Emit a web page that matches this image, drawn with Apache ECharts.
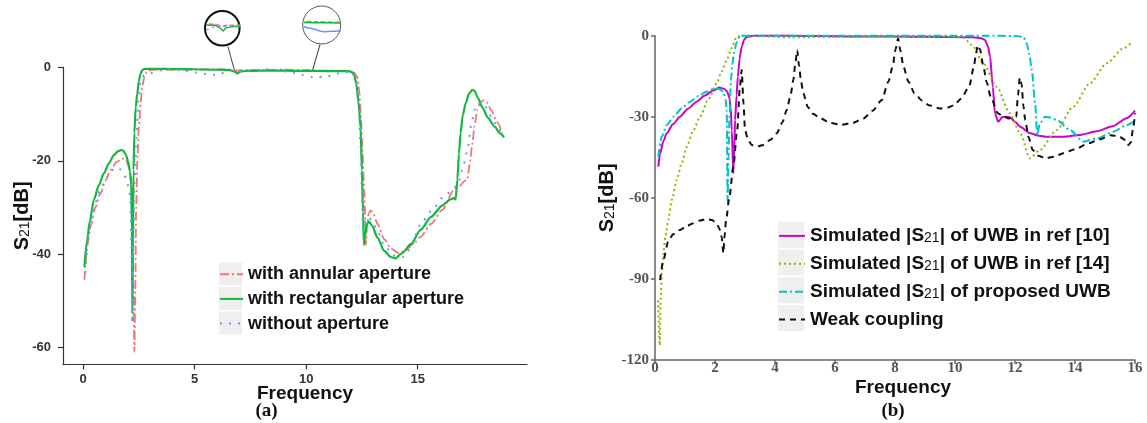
<!DOCTYPE html>
<html lang="en">
<head>
<meta charset="UTF-8">
<title>S21 comparison</title>
<script src="https://cdn.jsdelivr.net/npm/echarts@6/dist/echarts.min.js"></script>
<style>
  html, body { margin: 0; padding: 0; background: #fff; }
  #main { width: 1147px; height: 423px; }
</style>
</head>
<body>
<div id="main"></div>
<script>
    // ---- (a) aperture comparison, [GHz, dB] ----
    var annularAp = [[0.06,-45.5],[0.2,-38],[0.33,-34.1],[0.55,-30],[0.78,-27],[1.0,-24.3],[1.23,-22],[1.5,-20.3],[1.75,-19.5],[1.9,-19.7],[2.0,-20.6],[2.1,-22.5],[2.18,-26],[2.22,-35],[2.26,-50],[2.3,-60.9],[2.34,-48],[2.38,-30],[2.44,-19],[2.5,-12.7],[2.58,-7.5],[2.65,-4.1],[2.75,-2],[2.87,-0.8],[3.1,-0.5],[4,-0.45],[5,-0.45],[6,-0.4],[6.6,-0.45],[6.9,-0.7],[7.1,-0.6],[8,-0.55],[9,-0.5],[10,-0.6],[11,-0.7],[12.0,-0.8],[12.15,-1.1],[12.29,-2],[12.38,-5],[12.45,-10],[12.52,-17.7],[12.6,-26],[12.65,-32],[12.68,-38],[12.73,-34],[12.8,-31.3],[12.89,-30.6],[13.0,-31.2],[13.2,-33.5],[13.5,-36.8],[13.8,-38.8],[14.16,-39.8],[14.5,-39],[14.8,-37.8],[15.13,-36.3],[15.6,-33.5],[16.1,-30.5],[16.62,-26.3],[16.9,-25.3],[17.1,-24.3],[17.22,-24.1],[17.35,-20],[17.45,-16.3],[17.55,-12.5],[17.67,-9.1],[17.8,-7.5],[17.97,-7],[18.1,-7.5],[18.3,-9.2],[18.55,-11.6],[18.79,-14.1]];
    var rectAp = [[0.06,-42.7],[0.18,-37],[0.3,-33],[0.48,-28.4],[0.7,-25.3],[0.93,-22.7],[1.15,-20.6],[1.38,-18.8],[1.55,-18],[1.7,-17.7],[1.8,-17.8],[1.92,-18.7],[2.02,-20.2],[2.1,-22.2],[2.16,-25],[2.19,-35],[2.21,-52.7],[2.23,-40],[2.26,-22],[2.3,-14],[2.36,-8.5],[2.43,-5.6],[2.5,-3],[2.57,-1.4],[2.65,-0.6],[2.75,-0.3],[3.2,-0.3],[4,-0.35],[5,-0.4],[6,-0.5],[6.6,-0.6],[6.8,-0.9],[6.92,-1.3],[7.05,-0.9],[7.3,-0.75],[8,-0.7],[9,-0.7],[10,-0.75],[11,-0.8],[11.9,-0.8],[12.05,-1],[12.15,-1.5],[12.25,-3.5],[12.35,-7.5],[12.44,-13],[12.5,-22],[12.55,-31],[12.59,-38],[12.64,-36],[12.72,-33.6],[12.81,-33],[12.95,-33.8],[13.2,-36.5],[13.5,-39.3],[13.8,-40.6],[14.0,-40.9],[14.3,-39.8],[14.7,-37.8],[15.13,-34.8],[15.6,-32],[16.1,-29.6],[16.45,-28.3],[16.62,-28],[16.7,-28.3],[16.78,-24],[16.85,-18.5],[16.92,-14.1],[17.02,-10.3],[17.15,-7.7],[17.3,-5.6],[17.45,-4.8],[17.55,-5],[17.7,-6.5],[17.9,-8.6],[18.15,-10.8],[18.45,-12.7],[18.7,-14.2],[18.87,-15]];
    var noAp = [[0.1,-44],[0.25,-35.5],[0.48,-30],[0.75,-26.5],[1.0,-24],[1.23,-22.2],[1.45,-21.5],[1.6,-21.6],[1.8,-22.5],[1.95,-24],[2.05,-25.9],[2.12,-28],[2.17,-38],[2.2,-54.8],[2.24,-42],[2.3,-25],[2.4,-15],[2.48,-7],[2.57,-2.9],[2.7,-1.8],[2.95,-1.3],[3.5,-0.6],[3.9,-0.3],[4.5,-0.6],[5,-1.1],[5.5,-1.4],[5.95,-1.6],[6.6,-0.8],[7.2,-0.7],[7.7,-0.6],[8.2,-0.4],[8.7,-0.6],[9.2,-0.9],[9.8,-1.6],[10.3,-2.1],[10.9,-2],[11.4,-1.3],[12.0,-0.9],[12.15,-1.8],[12.27,-4],[12.36,-9],[12.44,-17],[12.5,-26],[12.55,-35.6],[12.6,-34],[12.68,-32.5],[12.8,-32],[12.95,-32.8],[13.2,-35],[13.5,-38],[13.9,-40.3],[14.38,-40.6],[14.7,-38.6],[15.13,-33.5],[15.6,-30.8],[16.17,-27.7],[16.55,-26.3],[16.8,-25],[17.0,-22],[17.22,-18],[17.4,-12.5],[17.55,-9],[17.7,-7.6],[17.85,-7.5],[18.0,-8.2],[18.3,-10.5],[18.55,-12.5],[18.72,-13.8]];
    var ticksA_x = [0, 5, 10, 15];
    var ticksA_y = [-60, -40, -20, 0];

    // ---- (b) UWB comparison, [GHz, dB] ----
    var uwbRef10 = [[0.11,-48.5],[0.17,-43.5],[0.28,-39],[0.39,-36.1],[0.6,-32.8],[0.83,-30],[1.1,-27],[1.39,-24.4],[1.65,-22.2],[1.94,-20.3],[2.14,-19.2],[2.3,-19.6],[2.41,-20.7],[2.48,-23],[2.52,-26.3],[2.56,-35],[2.61,-50.9],[2.64,-42],[2.67,-31.2],[2.72,-22],[2.76,-15.2],[2.82,-8.5],[2.89,-4.1],[2.97,-1.5],[3.06,-0.4],[3.3,0],[4,0],[5,-0.1],[6,-0.2],[7,-0.3],[8,-0.3],[9,-0.4],[10,-0.5],[10.6,-0.6],[10.9,-1],[11.0,-1.6],[11.1,-4],[11.17,-7.8],[11.26,-18.9],[11.33,-28.7],[11.44,-31.8],[11.5,-31.2],[11.56,-30.2],[11.7,-30],[11.83,-30.2],[12.0,-31.8],[12.17,-33.7],[12.5,-36.1],[12.8,-37],[13.06,-37.4],[13.61,-37.4],[14.17,-36.7],[14.72,-35.4],[15.28,-33.4],[15.72,-30.5],[16,-27.7]];
    var uwbRef14 = [[0.1,-98],[0.16,-114.5],[0.19,-96.6],[0.23,-88],[0.28,-80.5],[0.35,-74],[0.44,-68.2],[0.57,-60.5],[0.72,-53.4],[0.9,-46.8],[1.06,-41.1],[1.27,-35.2],[1.5,-30],[1.78,-23.5],[2.06,-17.6],[2.22,-13.2],[2.39,-9],[2.55,-4.6],[2.72,-0.4],[2.9,0],[3.5,-0.2],[4.5,-0.6],[5.5,-0.5],[6.5,-0.4],[7.5,-0.3],[8.5,-0.3],[9.5,-0.3],[10.0,-0.4],[10.28,-0.8],[10.45,-2.2],[10.61,-4.1],[10.94,-10.2],[11.39,-18.9],[11.83,-28.7],[12.17,-36.1],[12.5,-45.4],[12.83,-42.3],[13.39,-34.9],[13.94,-26.3],[14.5,-17.6],[15.06,-10.2],[15.61,-4.7],[15.92,-2.2]];
    var uwbProposed = [[0.11,-44.8],[0.22,-37.4],[0.4,-33],[0.61,-30],[0.9,-26.8],[1.17,-24.4],[1.45,-22.3],[1.72,-20.7],[2.0,-19.5],[2.15,-19.8],[2.28,-20.7],[2.35,-23.5],[2.39,-27.5],[2.42,-61.4],[2.45,-45],[2.48,-31.2],[2.53,-16.4],[2.58,-10.5],[2.63,-6.5],[2.72,-2.5],[2.83,0],[4,0],[6,0],[8,0],[10,0],[11,0],[12,-0.1],[12.28,-0.4],[12.39,-2.8],[12.48,-7],[12.56,-12.7],[12.67,-25],[12.74,-36.7],[12.83,-32.4],[13.0,-30],[13.2,-30.3],[13.39,-31.2],[13.83,-34.9],[14.28,-39.2],[14.72,-38],[15.28,-35.5],[15.7,-33.2],[16,-31.5]];
    var weakCoupling = [[0.17,-90.4],[0.28,-83],[0.44,-76.2],[0.6,-73.5],[0.83,-71.9],[1.05,-70.5],[1.28,-69.4],[1.5,-68.4],[1.72,-67.8],[1.9,-68.2],[2.06,-69.4],[2.15,-71.5],[2.22,-74.4],[2.28,-80.5],[2.32,-74],[2.37,-68.2],[2.48,-59.6],[2.61,-48.5],[2.74,-34.9],[2.83,-18.9],[2.89,-12.7],[2.95,-25],[3.0,-34.9],[3.1,-38.5],[3.22,-40.4],[3.4,-41],[3.61,-40.4],[3.85,-38.5],[4.06,-36.1],[4.25,-32],[4.39,-27.5],[4.52,-22],[4.61,-16.4],[4.68,-10],[4.74,-5.3],[4.8,-11],[4.87,-17],[4.94,-21.3],[5.1,-26.5],[5.28,-29],[5.5,-30.5],[5.85,-32.3],[6.22,-33],[6.6,-32.2],[6.95,-30.6],[7.25,-27.8],[7.56,-23.8],[7.78,-17],[7.92,-11.5],[8.02,-5],[8.1,-1],[8.18,-5.5],[8.28,-11.5],[8.45,-17],[8.65,-21.3],[8.9,-24],[9.13,-25.7],[9.5,-26.9],[9.75,-26.6],[9.98,-25.7],[10.2,-23.3],[10.47,-18.9],[10.62,-12],[10.71,-6],[10.76,-3.5],[10.83,-5],[10.95,-11.5],[11.05,-17],[11.19,-22.6],[11.43,-28.7],[11.6,-29.8],[11.8,-30.6],[12.04,-30],[12.1,-22],[12.16,-15.5],[12.22,-18],[12.28,-26],[12.34,-31.2],[12.45,-37.5],[12.59,-42.3],[12.8,-44.5],[13.01,-45.4],[13.3,-44.8],[13.61,-43.5],[14.0,-42],[14.46,-39.8],[14.8,-38.4],[15.19,-36.8],[15.45,-37.2],[15.68,-38.6],[15.78,-40.5],[15.86,-39.5],[15.93,-34.9],[16,-28.7]];

    var namesA = ['with annular aperture', 'with rectangular aperture', 'without aperture'];
    var namesB = ['Simulated |S21| of UWB in ref [10]', 'Simulated |S21| of UWB in ref [14]', 'Simulated |S21| of proposed UWB', 'Weak coupling'];

    var chart = echarts.init(document.getElementById('main'));

    function line(name, data, color, width, dash, xi) {
        return {
            name: name, type: 'line', data: data,
            xAxisIndex: xi, yAxisIndex: xi,
            symbol: 'none', showSymbol: false,
            smooth: 0.25, smoothMonotone: 'x',
            clip: xi > 1,
            lineStyle: { color: color, width: width, type: dash, cap: 'butt' },
            itemStyle: { color: color },
            emphasis: { disabled: true },
            z: 3
        };
    }

    var cRed = '#f87470', cGreen = '#12b83a', cBlue = '#5f9bff';
    var dashDot = [9, 3, 2, 3], dots = [2, 7];

    var axisA = {
        axisLine: { onZero: false, lineStyle: { color: '#333', width: 1.2 } },
        axisTick: { length: 5, lineStyle: { color: '#333', width: 1.2 } },
        splitLine: { show: false },
        axisLabel: { color: '#333', fontSize: 13, fontWeight: 'bold', fontFamily: 'Liberation Sans' }
    };
    var axisB = {
        axisLine: { onZero: false, lineStyle: { color: '#666', width: 1.5 } },
        axisTick: { length: 4, lineStyle: { color: '#666', width: 1.5 } },
        splitLine: { show: false },
        axisLabel: { color: '#555', fontSize: 15, fontWeight: 'bold', fontFamily: 'Liberation Serif' }
    };
    var nameRich = {
        n: { fontSize: 20, fontWeight: 'bold', fontFamily: 'Liberation Sans', color: '#111' },
        s: { fontSize: 14, fontFamily: 'Liberation Sans', color: '#111', padding: [6, 0, 0, 0] }
    };
    var yName = '{n|S}{s|21}{n|[dB]}';
    var xNameStyle = { fontSize: 19, fontWeight: 'bold', fontFamily: 'Liberation Sans', color: '#111' };

    function legendLabel(name) {
        var i = name.indexOf('S21');
        if (i < 0) return '{n|' + name + '}';
        return '{n|' + name.slice(0, i + 1) + '}{s|21}{n|' + name.slice(i + 3) + '}';
    }

    var option = {
        backgroundColor: '#fff',
        animation: false,
        grid: [
            { left: 63, top: 67.4, width: 464, height: 297, outerBoundsMode: 'none' },
            { left: 655, top: 35.7, width: 480, height: 324.3, outerBoundsMode: 'none' },
            // magnified insets in the circles
            { left: 207, top: 19, width: 31, height: 19, outerBoundsMode: 'none' },
            { left: 305, top: 15, width: 34, height: 20, outerBoundsMode: 'none' }
        ],
        xAxis: [
            Object.assign({}, axisA, {
                type: 'value', gridIndex: 0, min: -0.9, max: 19.9,
                axisTick: Object.assign({}, axisA.axisTick, { customValues: ticksA_x }),
                axisLabel: Object.assign({}, axisA.axisLabel, { customValues: ticksA_x, margin: 9 }),
                name: 'Frequency', nameLocation: 'middle', nameGap: 20, nameMoveOverlap: false,
                nameTextStyle: Object.assign({ padding: [0, 0, 0, 20] }, xNameStyle)
            }),
            Object.assign({}, axisB, {
                type: 'value', gridIndex: 1, min: 0, max: 16, interval: 2,
                axisLabel: Object.assign({}, axisB.axisLabel, { margin: 1 }),
                name: 'Frequency', nameLocation: 'middle', nameGap: 18, nameMoveOverlap: false,
                nameTextStyle: Object.assign({ padding: [0, 0, 0, 16] }, xNameStyle)
            }),
            { type: 'value', gridIndex: 2, min: 6.3, max: 7.5, show: false },
            { type: 'value', gridIndex: 3, min: 9.6, max: 10.9, show: false }
        ],
        yAxis: [
            Object.assign({}, axisA, {
                type: 'value', gridIndex: 0, min: -63.6, max: 0,
                axisTick: Object.assign({}, axisA.axisTick, { customValues: ticksA_y }),
                axisLabel: Object.assign({}, axisA.axisLabel, { customValues: ticksA_y, margin: 12 }),
                name: yName, nameLocation: 'middle', nameGap: 31, nameRotate: 90, nameMoveOverlap: false,
                nameTextStyle: { rich: nameRich }
            }),
            Object.assign({}, axisB, {
                type: 'value', gridIndex: 1, min: -120, max: 0, interval: 30,
                axisLabel: Object.assign({}, axisB.axisLabel, { margin: 6 }),
                name: yName, nameLocation: 'middle', nameGap: 38, nameRotate: 90, nameMoveOverlap: false,
                nameTextStyle: { rich: nameRich }
            }),
            { type: 'value', gridIndex: 2, min: -2.2, max: 0.2, show: false },
            { type: 'value', gridIndex: 3, min: -2.6, max: 0.4, show: false }
        ],
        legend: [
            {
                data: namesA, orient: 'vertical', left: 219, top: 265, padding: 0,
                itemWidth: 23, itemHeight: 23, itemGap: 6.3,
                itemStyle: { opacity: 0 },
                textStyle: { fontSize: 18, fontWeight: 'bold', fontFamily: 'Liberation Sans', color: '#111' },
                selectedMode: false
            },
            {
                data: namesB, orient: 'vertical', left: 778, top: 225.5, padding: 0,
                itemWidth: 26, itemHeight: 26, itemGap: 7.1,
                itemStyle: { opacity: 0 },
                formatter: legendLabel,
                textStyle: {
                    rich: {
                        n: { fontSize: 19, fontWeight: 'bold', fontFamily: 'Liberation Sans', color: '#111' },
                        s: { fontSize: 14, fontFamily: 'Liberation Sans', color: '#111', padding: [5, 0, 0, 0] }
                    }
                },
                selectedMode: false
            }
        ],
        graphic: [
            // grey legend key boxes
            { type: 'rect', shape: { x: 219, y: 262.5, width: 23, height: 23 }, style: { fill: '#efefef' }, z: 0 },
            { type: 'rect', shape: { x: 219, y: 287, width: 23, height: 23 }, style: { fill: '#efefef' }, z: 0 },
            { type: 'rect', shape: { x: 219, y: 311.5, width: 23, height: 23 }, style: { fill: '#efefef' }, z: 0 },
            { type: 'rect', shape: { x: 778, y: 221.7, width: 26, height: 26 }, style: { fill: '#efefef' }, z: 0 },
            { type: 'rect', shape: { x: 778, y: 249.5, width: 26, height: 26 }, style: { fill: '#efefef' }, z: 0 },
            { type: 'rect', shape: { x: 778, y: 277.3, width: 26, height: 26 }, style: { fill: '#efefef' }, z: 0 },
            { type: 'rect', shape: { x: 778, y: 305.1, width: 26, height: 26 }, style: { fill: '#efefef' }, z: 0 },
            // zoom circles and leader lines
            { type: 'circle', shape: { cx: 222.3, cy: 28.3, r: 17.3 }, style: { fill: '#fff', stroke: '#111', lineWidth: 2 }, z: 1 },
            { type: 'circle', shape: { cx: 321.7, cy: 25, r: 19 }, style: { fill: '#fff', stroke: '#555', lineWidth: 1 }, z: 1 },
            { type: 'line', shape: { x1: 228, y1: 46.5, x2: 234.3, y2: 70 }, style: { stroke: '#444', lineWidth: 1 }, z: 1 },
            { type: 'line', shape: { x1: 320, y1: 44.5, x2: 312.7, y2: 70 }, style: { stroke: '#333', lineWidth: 1 }, z: 1 },
            // panel captions
            { type: 'text', x: 266.5, y: 411, style: { text: '(a)', font: 'bold 19px "Liberation Serif"', fill: '#111', align: 'center', verticalAlign: 'middle' } },
            { type: 'text', x: 893, y: 411, style: { text: '(b)', font: 'bold 19px "Liberation Serif"', fill: '#111', align: 'center', verticalAlign: 'middle' } }
        ],
        series: [
            line(namesA[0], annularAp, cRed, 1.8, dashDot, 0),
            line(namesA[1], rectAp, cGreen, 2.2, 'solid', 0),
            line(namesA[2], noAp, cBlue, 2, dots, 0),
            line(namesB[0], uwbRef10, '#cc00cc', 2, 'solid', 1),
            line(namesB[1], uwbRef14, '#8ab800', 2, [2, 3], 1),
            line(namesB[2], uwbProposed, '#00c2c8', 2, [8, 3, 2, 3], 1),
            line(namesB[3], weakCoupling, '#111', 2, [6, 5], 1),
            // inset copies
            line(namesA[0], annularAp, cRed, 1.5, [5, 2], 2),
            line(namesA[1], rectAp, cGreen, 1.5, 'solid', 2),
            line(namesA[2], noAp, cBlue, 1.5, [2, 4], 2),
            line(namesA[0], annularAp, cRed, 1.5, [5, 2], 3),
            line(namesA[1], rectAp, cGreen, 1.5, 'solid', 3),
            line(namesA[2], noAp, cBlue, 1.5, 'solid', 3)
        ]
    };
    chart.setOption(option);
</script>
</body>
</html>
